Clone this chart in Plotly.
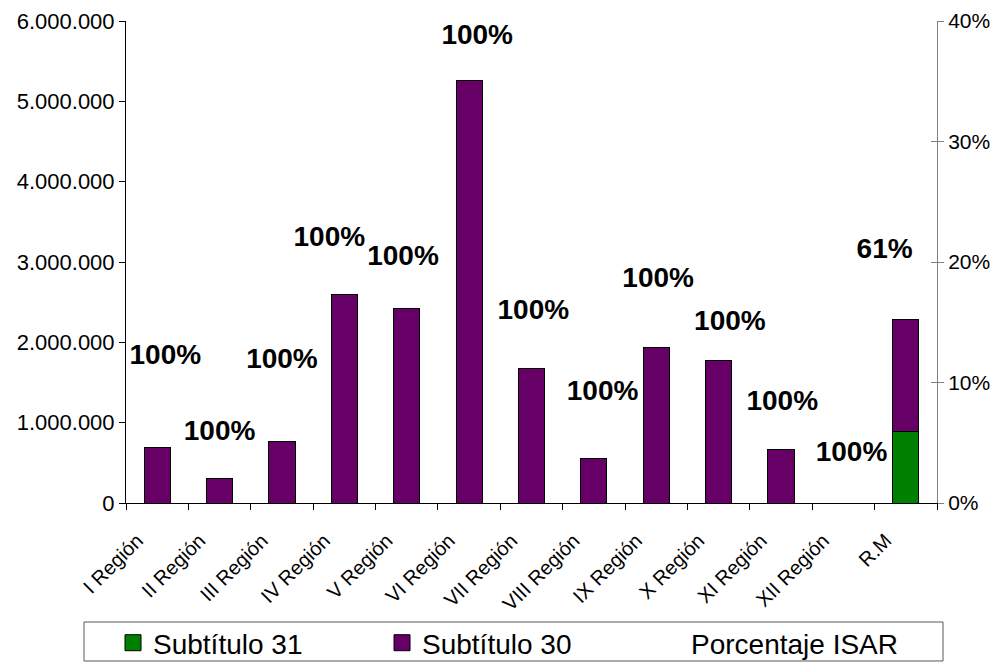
import plotly.graph_objects as go

categories = ["I Región", "II Región", "III Región", "IV Región", "V Región",
              "VI Región", "VII Región", "VIII Región", "IX Región", "X Región",
              "XI Región", "XII Región", "R.M"]
subtitulo_31 = [0, 0, 0, 0, 0, 0, 0, 0, 0, 0, 0, 0, 890000]
subtitulo_30 = [690000, 310000, 760000, 2600000, 2420000, 5260000, 1680000,
                560000, 1940000, 1780000, 660000, 0, 1400000]
isar_pct = [100, 100, 100, 100, 100, 100, 100, 100, 100, 100, 100, 100, 61]
# where each percentage label sits (left-axis units) and its sideways shift (category widths)
label_height = [1820000, 870000, 1770000, 3290000, 3050000, 5800000, 2380000,
                1370000, 2780000, 2240000, 1250000, 610000, 3140000]
label_shift = [0.13, 0.0, 0.0, -0.24, -0.06, 0.13, 0.03, 0.14, 0.03, 0.18, 0.02, 0.13, -0.34]
left_ticks = [0, 1000000, 2000000, 3000000, 4000000, 5000000, 6000000]
right_ticks = [0, 0.1, 0.2, 0.3, 0.4]

FONT = "Arial, Liberation Sans, sans-serif"
PURPLE = "#660066"
GREEN = "#008000"

n = len(categories)
xs = list(range(n))

fig = go.Figure()
fig.add_trace(go.Bar(x=xs, y=subtitulo_31, width=0.42, marker=dict(color=GREEN, line=dict(color="black", width=1)),
                     showlegend=False, name="Subtítulo 31"))
fig.add_trace(go.Bar(x=xs, y=subtitulo_30, width=0.42, marker=dict(color=PURPLE, line=dict(color="black", width=1)),
                     showlegend=False, name="Subtítulo 30"))
fig.add_trace(go.Scatter(x=[x + s for x, s in zip(xs, label_shift)], y=label_height, mode="text",
                         text=[f"<b>{p}%</b>" for p in isar_pct], textposition="middle center",
                         textfont=dict(family=FONT, size=28, color="black"), showlegend=False))
# legend entries
fig.add_trace(go.Scatter(x=[None], y=[None], mode="markers", name="Subtítulo 31",
                         marker=dict(symbol="square", size=16, color=GREEN, line=dict(color="black", width=1))))
fig.add_trace(go.Scatter(x=[None], y=[None], mode="markers", name="Subtítulo 30",
                         marker=dict(symbol="square", size=16, color=PURPLE, line=dict(color="black", width=1))))
fig.add_trace(go.Scatter(x=[None], y=[None], mode="lines", name="Porcentaje ISAR", yaxis="y2",
                         line=dict(width=0, color="rgba(0,0,0,0)")))
fig.add_trace(go.Scatter(x=[None], y=[None], mode="lines", yaxis="y3", showlegend=False))

fig.update_layout(
    width=1005, height=663,
    margin=dict(l=126, r=68, t=21, b=160, autoexpand=False),
    paper_bgcolor="white", plot_bgcolor="white",
    barmode="stack",
    separators=",.",
    font=dict(family=FONT, size=21, color="black"),
    xaxis=dict(range=[-0.5, n - 0.5], tickvals=xs, ticktext=categories, tickangle=-45,
               ticks="", showline=True, linecolor="black", linewidth=1, showgrid=False, zeroline=False,
               tickfont=dict(size=20), ticklabelstandoff=17, ticklabelshift=-20,
               minor=dict(tickvals=[i - 0.5 for i in range(n + 1)], ticks="outside", ticklen=6,
                          tickcolor="black", showgrid=False)),
    yaxis=dict(range=[0, 6000000], tickvals=left_ticks, tickformat=",d", ticks="outside", ticklen=6,
               tickcolor="black", showline=True, linecolor="black", linewidth=1, showgrid=False,
               zeroline=False, tickfont=dict(size=22)),
    yaxis2=dict(range=[0, 0.4], tickvals=right_ticks, tickformat=".0%", overlaying="y", side="right",
                anchor="x", ticks="outside", ticklen=6, tickcolor="#808080", showline=True,
                linecolor="#808080", linewidth=1, showgrid=False, zeroline=False, tickfont=dict(size=21)),
    yaxis3=dict(range=[0, 0.4], tickvals=right_ticks, overlaying="y", side="right", anchor="x",
                ticks="inside", ticklen=6, tickcolor="#808080", showticklabels=False, showline=False,
                showgrid=False, zeroline=False),
    legend=dict(orientation="h", x=-0.016, xanchor="left", y=-0.2386, yanchor="top",
                borderwidth=0, bgcolor="rgba(0,0,0,0)",
                font=dict(family=FONT, size=28, color="black"),
                entrywidth=224, entrywidthmode="pixels", traceorder="normal"),
    showlegend=True,
    shapes=[dict(type="rect", xref="paper", yref="paper", x0=-0.0518, x1=1.0074, y0=-0.2469, y1=-0.3278,
                 line=dict(color="#595959", width=1), fillcolor="rgba(0,0,0,0)", layer="below")],
)

fig.write_html("out.html", config={"displayModeBar": False},
               post_script="document.body.style.margin='0px';")
